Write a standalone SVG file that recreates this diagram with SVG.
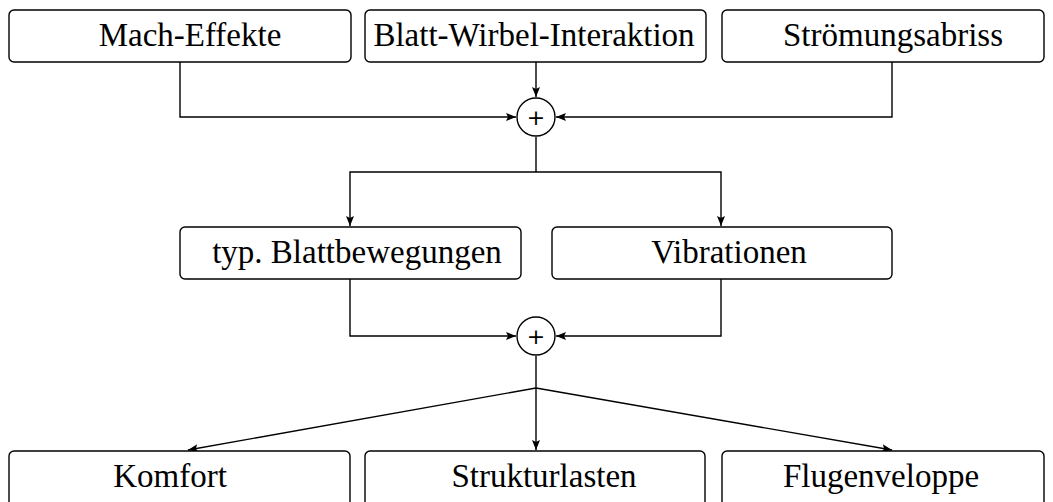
<svg xmlns="http://www.w3.org/2000/svg" width="1053" height="502" viewBox="0 0 1053 502">
<style>
.box{fill:#fff;stroke:#000;stroke-width:1.4}
.lbl{font-family:"Liberation Serif","DejaVu Serif",serif;font-size:33px;text-anchor:middle;fill:#000}
.c{fill:none;stroke:#000;stroke-width:1.4}
.sum{fill:#fff;stroke:#000;stroke-width:1.4}
.plus{font-family:"DejaVu Sans",sans-serif;font-size:22px;text-anchor:middle;fill:#000}
</style>
<defs>
<marker id="ah" viewBox="0 0 10 8" refX="10" refY="4" markerWidth="10" markerHeight="8" markerUnits="userSpaceOnUse" orient="auto">
<path d="M0,0 L10,4 L0,8 L2,4 Z" fill="#000"/>
</marker>
</defs>
<g id="connectors">
<path class="c" d="M180,62 V117 H516" marker-end="url(#ah)"/>
<path class="c" d="M536,62 V97" marker-end="url(#ah)"/>
<path class="c" d="M892,62 V117 H556" marker-end="url(#ah)"/>
<path class="c" d="M536,137 V172"/>
<path class="c" d="M536,172 H350 V226" marker-end="url(#ah)"/>
<path class="c" d="M536,172 H721 V226" marker-end="url(#ah)"/>
<path class="c" d="M350,279 V336 H516" marker-end="url(#ah)"/>
<path class="c" d="M721,279 V336 H556" marker-end="url(#ah)"/>
<path class="c" d="M536,356 V388"/>
<path class="c" d="M536,388 L188,450" marker-end="url(#ah)"/>
<path class="c" d="M536,388 V450" marker-end="url(#ah)"/>
<path class="c" d="M536,388 L892,450" marker-end="url(#ah)"/>
</g>
<g id="n_mach"><rect class="box" x="9" y="10" width="342" height="52" rx="5"/><text class="lbl" x="190" y="46">Mach-Effekte</text></g>
<g id="n_bwi"><rect class="box" x="365" y="10" width="341" height="52" rx="5"/><text class="lbl" x="534" y="46">Blatt-Wirbel-Interaktion</text></g>
<g id="n_stroem"><rect class="box" x="722" y="10" width="322" height="52" rx="5"/><text class="lbl" x="893" y="46">Strömungsabriss</text></g>
<g id="sum1"><circle class="sum" cx="536" cy="117" r="19"/><text class="plus" x="536" y="125">+</text></g>
<g id="n_typ"><rect class="box" x="180" y="227" width="341" height="52" rx="5"/><text class="lbl" x="357" y="263">typ. Blattbewegungen</text></g>
<g id="n_vib"><rect class="box" x="552" y="227" width="340" height="52" rx="5"/><text class="lbl" x="729" y="263">Vibrationen</text></g>
<g id="sum2"><circle class="sum" cx="536" cy="336" r="19"/><text class="plus" x="536" y="344">+</text></g>
<g id="n_komfort"><rect class="box" x="9" y="451" width="341" height="60" rx="5"/><text class="lbl" x="170" y="487">Komfort</text></g>
<g id="n_struktur"><rect class="box" x="365" y="451" width="340" height="60" rx="5"/><text class="lbl" x="544" y="487">Strukturlasten</text></g>
<g id="n_flug"><rect class="box" x="722" y="451" width="322" height="60" rx="5"/><text class="lbl" x="881" y="487">Flugenveloppe</text></g>
</svg>
